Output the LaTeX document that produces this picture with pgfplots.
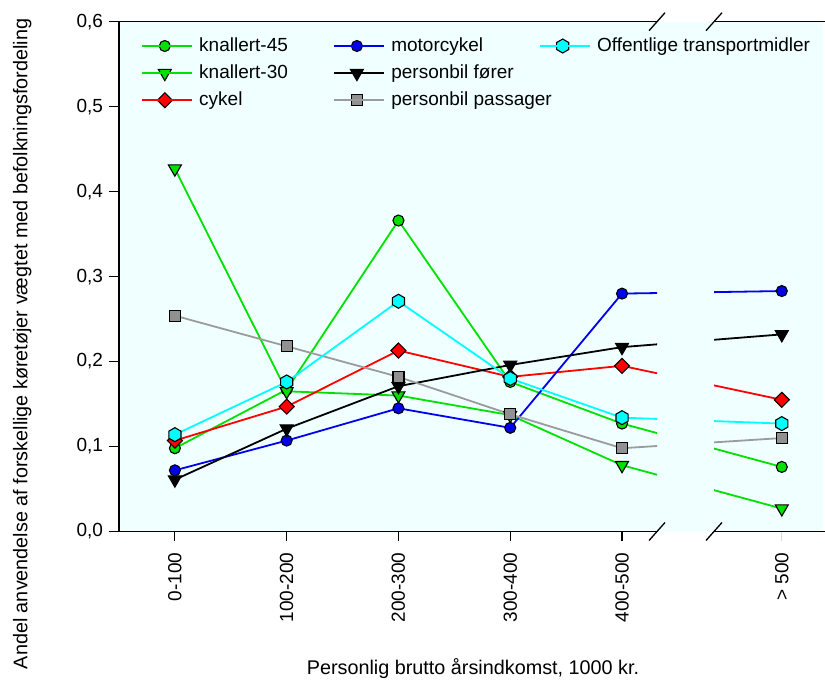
\documentclass[border=0pt]{standalone}
\usepackage{fontspec}
\setmainfont{Liberation Sans}
\usepackage{pgfplots}
\usepackage{pgfplotstable}
\pgfplotsset{compat=1.18}

\definecolor{panelbg}{RGB}{240,255,255}
\definecolor{mopedgreen}{RGB}{0,225,0}
\definecolor{mcblue}{RGB}{0,0,235}
\definecolor{bikered}{RGB}{255,0,0}
\definecolor{passline}{RGB}{155,155,155}
\definecolor{passfill}{RGB}{145,145,145}
\definecolor{ptcyan}{RGB}{0,255,255}

% filled hexagon with a point at the top
\pgfdeclareplotmark{hexagon*}{%
  \pgfpathmoveto{\pgfpointpolar{90}{\pgfplotmarksize}}%
  \pgfpathlineto{\pgfpointpolar{150}{\pgfplotmarksize}}%
  \pgfpathlineto{\pgfpointpolar{210}{\pgfplotmarksize}}%
  \pgfpathlineto{\pgfpointpolar{270}{\pgfplotmarksize}}%
  \pgfpathlineto{\pgfpointpolar{330}{\pgfplotmarksize}}%
  \pgfpathlineto{\pgfpointpolar{30}{\pgfplotmarksize}}%
  \pgfpathclose
  \pgfusepathqfillstroke
}

\tikzset{
  k45/.style={color=mopedgreen, line width=1.8bp, mark=*, mark size=5.5bp,
    mark options={solid, draw=black, fill=mopedgreen, line width=1.1bp}},
  k30/.style={color=mopedgreen, line width=1.8bp, mark=triangle*, mark size=7.5bp,
    mark options={solid, rotate=180, draw=black, fill=mopedgreen, line width=1.1bp}},
  bike/.style={color=bikered, line width=1.8bp, mark=square*, mark size=5.3bp,
    mark options={solid, rotate=45, draw=black, fill=bikered, line width=1.1bp}},
  mc/.style={color=mcblue, line width=1.8bp, mark=*, mark size=5.5bp,
    mark options={solid, draw=black, fill=mcblue, line width=1.1bp}},
  driver/.style={color=black, line width=1.8bp, mark=triangle*, mark size=7.5bp,
    mark options={solid, rotate=180, draw=black, fill=black, line width=1.1bp}},
  pass/.style={color=passline, line width=1.8bp, mark=square*, mark size=5.5bp,
    mark options={solid, draw=black, fill=passfill, line width=1.1bp}},
  pt/.style={color=ptcyan, line width=1.8bp, mark=hexagon*, mark size=7bp,
    mark options={solid, draw=black, fill=ptcyan, line width=1.1bp}},
  spine/.style={black, line width=1.6bp},
  breakmark/.style={black, line width=1.3bp},
}

% share of use per income group; the last group (> 500) sits past the axis break
\pgfplotstableread{
x    k45   k30   cykel motor forer pass  off
0    0.098 0.427 0.107 0.072 0.061 0.254 0.114
1    0.167 0.165 0.147 0.107 0.121 0.218 0.176
2    0.366 0.160 0.213 0.145 0.171 0.182 0.271
3    0.176 0.137 0.182 0.122 0.196 0.138 0.180
4    0.127 0.078 0.195 0.280 0.217 0.098 0.134
5.43 0.076 0.027 0.155 0.283 0.232 0.110 0.127
}\incomedata

\pgfplotsset{
  common/.style={
    scale only axis, height=509.8bp,
    ymin=0, ymax=0.6,
    clip=true,
    axis line style={draw=none},
    tick align=outside,
    major tick length=9.5bp,
    xtick pos=bottom,
    xticklabel style={rotate=90, anchor=east},
    xticklabel shift=5bp,
    tick label style={/pgf/number format/assume math mode=true},
  },
}

\begin{document}
\fontsize{19bp}{23bp}\selectfont
\begin{tikzpicture}
\useasboundingbox (-119bp,-152.5bp) rectangle (706bp,531.5bp);
\fill[panelbg] (0,0) rectangle (704bp,509.8bp);

\begin{axis}[common, name=lower,
  at={(0,0)}, anchor=south west,
  width=538bp,
  xmin=-0.5, xmax=4.313,
  xtick={0,1,2,3,4},
  xticklabels={0-100,100-200,200-300,300-400,400-500},
  ytick={0,0.1,0.2,0.3,0.4,0.5,0.6},
  ytick pos=left,
  x tick style={black, line width=1.2bp},
  y tick style={black, line width=1.2bp},
  yticklabel style={/pgf/number format/.cd, fixed, fixed zerofill, precision=1, use comma},
  xlabel={Personlig brutto årsindkomst, 1000 kr.},
  xlabel style={at={(axis description cs:0.658,-0.268)}, anchor=center,
    font=\fontsize{19.8bp}{23bp}\selectfont},
  ylabel={Andel anvendelse af forskellige køretøjer vægtet med befolkningsfordeling},
  ylabel style={at={(axis description cs:-0.180,0.368)}, anchor=center,
    font=\fontsize{19.8bp}{23bp}\selectfont},
  legend columns=3,
  legend cell align=left,
  legend image code/.code={%
    \draw[mark repeat=2, mark phase=2, #1] plot coordinates {(0bp,0bp) (22.5bp,0bp) (45bp,0bp)};
    \path (0bp,0bp) -- (50bp,0bp);},
  legend style={draw=none, fill=none, at={(rel axis cs:0,1)}, anchor=north west,
    xshift=22.4bp, yshift=-14bp, inner sep=0pt, outer sep=0pt,
    row sep=6.5bp, column sep=0pt,
    nodes={inner xsep=6bp, inner ysep=2bp}},
]
\addlegendimage{k45}\addlegendentry{\makebox[128.3bp][l]{knallert-45}}
\addlegendimage{mc}\addlegendentry{\makebox[142bp][l]{motorcykel}}
\addlegendimage{pt}\addlegendentry{Offentlige transportmidler}
\addlegendimage{k30}\addlegendentry{\makebox[128.3bp][l]{knallert-30}}
\addlegendimage{driver}\addlegendentry{\makebox[142bp][l]{personbil fører}}
\addlegendimage{empty legend}\addlegendentry{}
\addlegendimage{bike}\addlegendentry{\makebox[128.3bp][l]{cykel}}
\addlegendimage{pass}\addlegendentry{\makebox[142bp][l]{personbil passager}}

\addplot[k45, forget plot] table[x=x, y=k45] {\incomedata};
\addplot[k30, forget plot] table[x=x, y=k30] {\incomedata};
\addplot[bike, forget plot] table[x=x, y=cykel] {\incomedata};
\addplot[mc, forget plot] table[x=x, y=motor] {\incomedata};
\addplot[driver, forget plot] table[x=x, y=forer] {\incomedata};
\addplot[pass, forget plot] table[x=x, y=pass] {\incomedata};
\addplot[pt, forget plot] table[x=x, y=off] {\incomedata};
\end{axis}

\begin{axis}[common, name=upper,
  at={(595bp,0)}, anchor=south west,
  width=111bp,
  xmin=4.823, xmax=5.817,
  xtick={5.43},
  xticklabels={> 500},
  ytick=\empty,
  x tick style={black!15, line width=1bp},
]
\addplot[k45] table[x=x, y=k45] {\incomedata};
\addplot[k30] table[x=x, y=k30] {\incomedata};
\addplot[bike] table[x=x, y=cykel] {\incomedata};
\addplot[mc] table[x=x, y=motor] {\incomedata};
\addplot[driver] table[x=x, y=forer] {\incomedata};
\addplot[pass] table[x=x, y=pass] {\incomedata};
\addplot[pt] table[x=x, y=off] {\incomedata};
\end{axis}

% frame of the two panels
\draw[spine, line cap=rect] (lower.north west) -- (lower.south west) -- (lower.south east);
\draw[spine] (lower.north west) -- (lower.north east);
\draw[spine] (upper.south west) -- (upper.south east);
\draw[spine] (upper.north west) -- (upper.north east);

% break marks
\draw[breakmark] ([shift={(-8bp,-9bp)}]lower.south east) -- ([shift={(8bp,9bp)}]lower.south east);
\draw[breakmark] ([shift={(-8bp,-9bp)}]upper.south west) -- ([shift={(8bp,9bp)}]upper.south west);
\draw[breakmark] ([shift={(-8bp,-9bp)}]lower.north east) -- ([shift={(8bp,9bp)}]lower.north east);
\draw[breakmark] ([shift={(-8bp,-9bp)}]upper.north west) -- ([shift={(8bp,9bp)}]upper.north west);
\end{tikzpicture}
\end{document}
